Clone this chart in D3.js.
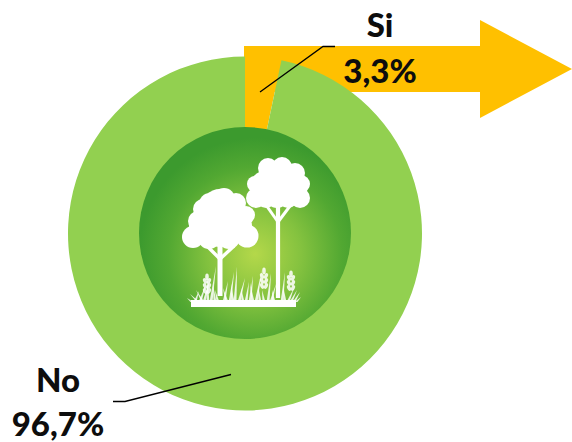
<!DOCTYPE html>
<html>
<head>
<meta charset="utf-8">
<script src="https://cdn.jsdelivr.net/npm/d3@7/dist/d3.min.js"></script>
<style>
html,body{margin:0;padding:0;background:#fff}
svg{display:block}
text{font-family:Lato,"Open Sans",sans-serif;font-weight:900;fill:#0d0d0d;text-anchor:middle}
</style>
</head>
<body>
<svg width="572" height="442" id="c"></svg>
<script>
const categories = ["Si", "No"];
const values = [3.3, 96.7];
const valueLabels = ["3,3%", "96,7%"];
const sliceColors = ["#FFC000", "#92D050"];

// Decorative artwork (not data)
const leftCanopy = [[220,222,25],[205,226,16],[236,226,16],[220,208,19],[224,199,11],[210,204,11],[236,203,10],[203,209,10],[198,221,10],[246,215,9],[193,237,11],[247,236,11.5],[209,238,11],[229,238,11],[203,228,12],[238,228,12]];
const rightCanopy = [[278,184,19],[265,186,15],[292,186,15],[282,167,10],[268,168,10],[295,173,10],[301,184,9],[255,184,8],[256,198,10],[300,198,10],[277,197,11],[288,198,10],[266,198,10]];
const branches = [
  [220,296,220,246,5],[220,259,207,246,3.4],[220,259,234,246,3.4],
  [278,298,278,206,4.2],[278,222,266,205,3],[278,222,290,206,3]
];
const blades = [[192,187,298],[195,199,291],[198,190,294],[200,206,284],[203,196,290],[204,210,279],[208,207,276],[211,216,266],[215,213,285],[218,215,290],
  [224,228,281],[227,223,288],[230,234,272],[233,231,284],[235,237,267],[239,245,278],[243,241,288],[246,249,282],[250,253,276],[253,250,283],[256,262,270],
  [260,258,286],[264,262,290],[268,271,273],[271,276,284],[274,272,290],[282,285,272],[285,283,286],[288,294,288],[291,297,290],[294,300,292],[296,301,297]];
const wheatEars = [[207,281],[207,286],[207,291],[264,276],[264,281],[264,286],[291,278],[291,283],[291,288]];
const wheatTips = [[207,277],[264,271],[291,274]];

const svg = d3.select("#c");
const cx = 245, cy = 233.5, rOuter = 177, rInner = 106;

const defs = svg.append("defs");
const grad = defs.append("radialGradient").attr("id","disc")
  .attr("gradientUnits","userSpaceOnUse")
  .attr("cx",255).attr("cy",254).attr("r",116).attr("fx",255).attr("fy",254);
grad.append("stop").attr("offset",0).attr("stop-color","#b4d84a");
grad.append("stop").attr("offset",0.4).attr("stop-color","#84c23f");
grad.append("stop").attr("offset",0.75).attr("stop-color","#52a832");
grad.append("stop").attr("offset",1).attr("stop-color","#3c9a2e");
defs.append("filter").attr("id","soft").append("feGaussianBlur").attr("stdDeviation",0.45);

// Arrow behind the chart
const arrow = [[244,46],[480,46],[480,20],[572,69],[480,118],[480,92],[244,92]];
svg.append("path").attr("d", d3.line()(arrow) + "Z").attr("fill","#FFC000");

// Donut
const pie = d3.pie().sort(null).value(d => d)(values);
const arc = d3.arc().innerRadius(rInner - 4).outerRadius(rOuter);
const g = svg.append("g").attr("transform",`translate(${cx},${cy})`);
g.selectAll("path").data(pie).join("path")
  .attr("d", arc)
  .attr("fill", (d,i) => sliceColors[i]);

// Centre disc
svg.append("circle").attr("cx",cx).attr("cy",233).attr("r",rInner).attr("fill","url(#disc)");

// Trees
const art = svg.append("g").attr("filter","url(#soft)");
art.selectAll("circle.l").data(leftCanopy.concat(rightCanopy)).join("circle")
  .attr("cx",d=>d[0]).attr("cy",d=>d[1]).attr("r",d=>d[2]).attr("fill","#fff");
art.selectAll("line").data(branches).join("line")
  .attr("x1",d=>d[0]).attr("y1",d=>d[1]).attr("x2",d=>d[2]).attr("y2",d=>d[3])
  .attr("stroke","#fff").attr("stroke-width",d=>d[4]);
art.append("rect").attr("x",191).attr("y",300).attr("width",105).attr("height",7).attr("fill","#fff");
art.selectAll("path.b").data(blades).join("path").attr("class","b")
  .attr("d",d=>`M${d[0]-1.5},302L${d[1]},${d[2]}L${d[0]+1.5},302Z`).attr("fill","#fff").attr("opacity",0.85);
art.selectAll("ellipse.p").data(wheatEars.flatMap(d=>[[d[0]-2,d[1],-25],[d[0]+2,d[1],25]])).join("ellipse").attr("class","p")
  .attr("cx",d=>d[0]).attr("cy",d=>d[1]).attr("rx",1.8).attr("ry",3)
  .attr("transform",d=>`rotate(${d[2]} ${d[0]} ${d[1]})`).attr("fill","#fff").attr("opacity",0.85);
art.selectAll("ellipse.t").data(wheatTips).join("ellipse").attr("class","t")
  .attr("cx",d=>d[0]).attr("cy",d=>d[1]).attr("rx",1.8).attr("ry",3.4).attr("fill","#fff").attr("opacity",0.85);

// Leader lines
const leaders = [[[260,92],[323,46.5],[335,46.5]], [[231,374.5],[125,401.5],[113,401.5]]];
svg.selectAll("path.lead").data(leaders).join("path").attr("class","lead")
  .attr("d", d3.line()).attr("fill","none").attr("stroke","#000").attr("stroke-width",1.3);

// Labels
const labelFont = 33;
svg.append("text").attr("x",380).attr("y",37).attr("font-size",labelFont).text(categories[0]);
svg.append("text").attr("x",380).attr("y",83).attr("font-size",labelFont).text(valueLabels[0]);
svg.append("text").attr("x",58).attr("y",392).attr("font-size",labelFont).text(categories[1]);
svg.append("text").attr("x",58).attr("y",436).attr("font-size",labelFont).text(valueLabels[1]);
</script>
</body>
</html>
